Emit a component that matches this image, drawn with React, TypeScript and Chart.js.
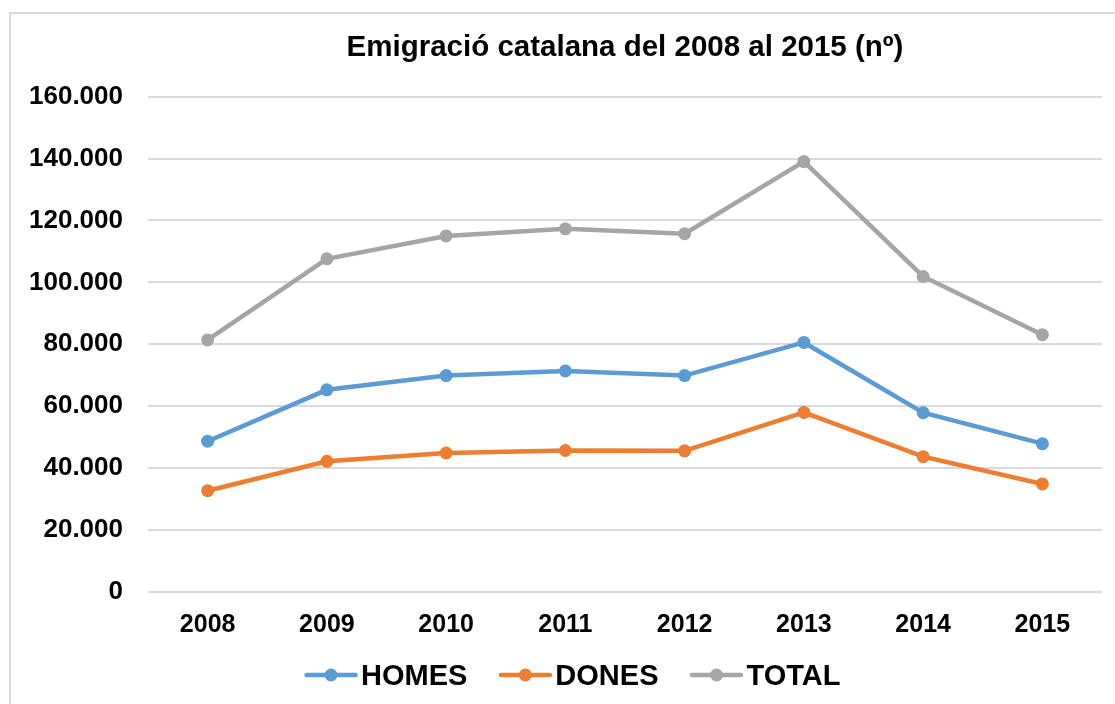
import React, { useEffect, useRef } from "react";
import { Chart, registerables } from "chart.js";

Chart.register(...registerables);

const TITLE = "Emigració catalana del 2008 al 2015 (nº)";
const YEARS = ["2008", "2009", "2010", "2011", "2012", "2013", "2014", "2015"];
const HOMES = [48700, 65300, 69900, 71400, 69900, 80600, 57900, 47900];
const DONES = [32700, 42200, 44900, 45700, 45600, 58000, 43700, 34900];
const TOTAL = [81400, 107600, 115000, 117300, 115700, 139000, 101900, 83100];
const SERIES_NAMES = ["HOMES", "DONES", "TOTAL"];
const SERIES_COLORS = ["#5B9BD5", "#ED7D31", "#A5A5A5"];
const Y_MIN = 0;
const Y_MAX = 160000;
const Y_STEP = 20000;

const FONT = "'Liberation Sans', Arial, sans-serif";

const fmt = (v: number) => String(Math.round(v)).replace(/\B(?=(\d{3})+(?!\d))/g, ".");

const framePlugin = {
  id: "frame",
  beforeDraw(chart: any) {
    const ctx = chart.ctx;
    ctx.save();
    ctx.fillStyle = "#ffffff";
    ctx.fillRect(0, 0, chart.width, chart.height);
    ctx.strokeStyle = "#D9D9D9";
    ctx.lineWidth = 2;
    ctx.strokeRect(10, 13, chart.width + 50, chart.height + 50);
    ctx.restore();
  },
};

const legendPlugin = {
  id: "customLegend",
  afterDraw(chart: any) {
    const ctx = chart.ctx;
    const ds = chart.data.datasets;
    const fontSize = 29;
    const iconW = 53;
    const gapIconText = 3.5;
    const gapItems = 31.5;
    ctx.save();
    ctx.font = `bold ${fontSize}px ${FONT}`;
    const widths = ds.map((d: any) => iconW + gapIconText + ctx.measureText(d.label).width);
    const total = widths.reduce((a: number, b: number) => a + b, 0) + gapItems * (ds.length - 1);
    const cx = 572.5;
    const baseline = 685;
    const iconY = 675;
    let x = cx - total / 2;
    ds.forEach((d: any, i: number) => {
      ctx.strokeStyle = d.borderColor;
      ctx.lineWidth = 4.5;
      ctx.lineCap = "round";
      ctx.beginPath();
      ctx.moveTo(x + 2, iconY);
      ctx.lineTo(x + iconW - 2, iconY);
      ctx.stroke();
      ctx.fillStyle = d.borderColor;
      ctx.beginPath();
      ctx.arc(x + iconW / 2, iconY, 6.5, 0, Math.PI * 2);
      ctx.fill();
      ctx.fillStyle = "#000000";
      ctx.textBaseline = "alphabetic";
      ctx.textAlign = "left";
      ctx.fillText(d.label, x + iconW + gapIconText, baseline);
      x += widths[i] + gapItems;
    });
    ctx.restore();
  },
};

export default function App() {
  const ref = useRef<HTMLCanvasElement | null>(null);
  useEffect(() => {
    if (!ref.current) return;
    const seriesData = [HOMES, DONES, TOTAL];
    const chart = new Chart(ref.current, {
      type: "line",
      data: {
        labels: YEARS,
        datasets: SERIES_NAMES.map((name, i) => ({
          label: name,
          data: seriesData[i],
          borderColor: SERIES_COLORS[i],
          backgroundColor: SERIES_COLORS[i],
          pointBackgroundColor: SERIES_COLORS[i],
          pointBorderColor: SERIES_COLORS[i],
          pointBorderWidth: 0,
          pointRadius: 6.5,
          borderWidth: 4.5,
          tension: 0,
          fill: false,
        })),
      },
      options: {
        responsive: false,
        animation: false,
        layout: { padding: { left: 0, right: 13, top: 0, bottom: 0 } },
        plugins: {
          legend: { display: false },
          tooltip: { enabled: false },
          title: {
            display: true,
            text: TITLE,
            fullSize: false,
            color: "#000000",
            font: { family: FONT, size: 29.5, weight: "bold" },
            padding: { top: 30, bottom: 31.2 },
          },
        },
        scales: {
          x: {
            offset: true,
            grid: { display: false },
            border: { display: false },
            ticks: {
              color: "#000000",
              font: { family: FONT, size: 25, weight: "bold" },
              padding: 10,
              maxRotation: 0,
            },
            afterFit(scale: any) {
              scale.height = 112;
            },
          },
          y: {
            min: Y_MIN,
            max: Y_MAX,
            border: { display: false },
            grid: { color: "#D9D9D9", lineWidth: 2, drawTicks: false },
            ticks: {
              stepSize: Y_STEP,
              color: "#000000",
              font: { family: FONT, size: 26, weight: "bold" },
              padding: 25,
              callback: (v: any) => fmt(Number(v)),
            },
            afterFit(scale: any) {
              scale.width = 148;
            },
          },
        },
      },
      plugins: [framePlugin, legendPlugin],
    });
    return () => chart.destroy();
  }, []);
  return (
    <div style={{ position: "fixed", left: 0, top: 0, width: 1115, height: 704, background: "#fff" }}>
      <canvas ref={ref} width={1115} height={704} style={{ display: "block" }} />
    </div>
  );
}
